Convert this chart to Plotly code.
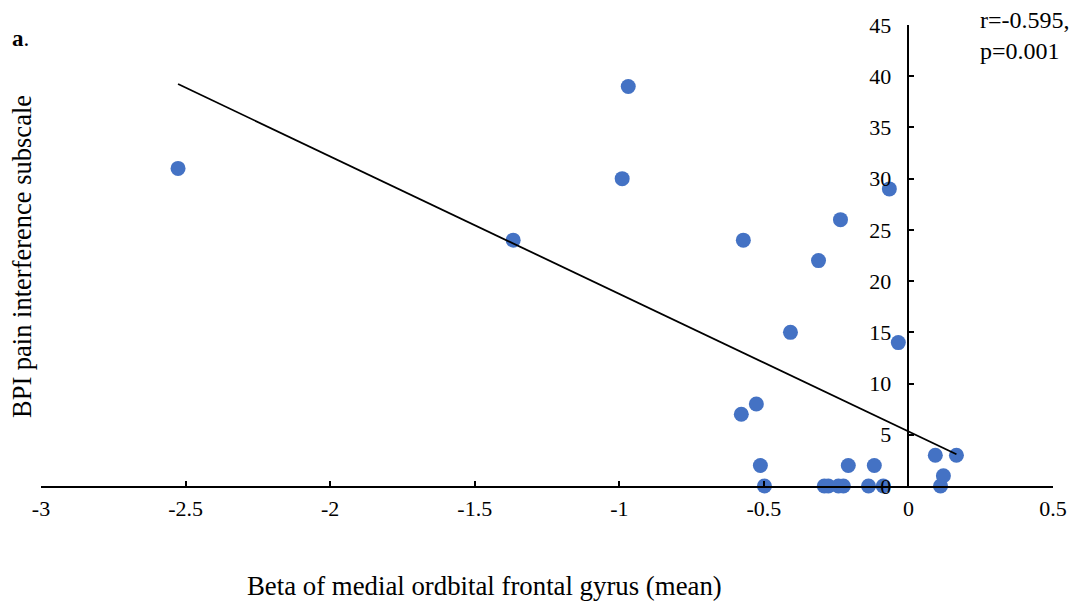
import numpy as np
import plotly.graph_objects as go

beta_mofg = [-2.526, -0.969, -0.990, -1.367, -0.571, -0.066, -0.235, -0.311, -0.408, -0.035,
             -0.578, -0.526, -0.512, -0.208, -0.118,
             -0.498, -0.291, -0.277, -0.242, -0.225, -0.138, -0.087, 0.111,
             0.093, 0.166, 0.121]
bpi_interference = [31, 39, 30, 24, 24, 29, 26, 22, 15, 14,
                    7, 8, 2, 2, 2,
                    0, 0, 0, 0, 0, 0, 0, 0,
                    3, 3, 1]

x_ticks = [-3, -2.5, -2, -1.5, -1, -0.5, 0, 0.5]
y_ticks = [0, 5, 10, 15, 20, 25, 30, 35, 40, 45]
y_tick_labels = ["0", "5", "10", "15", "20", "25", "30", "35", "40", "45"]

slope, intercept = np.polyfit(beta_mofg, bpi_interference, 1)
line_x = [min(beta_mofg), max(beta_mofg)]
line_y = [slope * v + intercept for v in line_x]

FONT = "Liberation Serif"
L, R, T, B = 41, 20, 25, 119
PW, PH = 1073 - L - R, 605 - T - B


def px(xp):
    return (xp - L) / PW


def py(yp):
    return (605 - B - yp) / PH


fig = go.Figure()
fig.add_trace(go.Scatter(x=beta_mofg, y=bpi_interference, mode="markers",
                         marker=dict(color="#4472C4", size=15, line=dict(width=0)),
                         showlegend=False, cliponaxis=False))
fig.add_trace(go.Scatter(x=line_x, y=line_y, mode="lines",
                         line=dict(color="black", width=1.8), showlegend=False))

fig.update_layout(
    width=1073, height=605,
    margin=dict(l=L, r=R, t=T, b=B, autoexpand=False),
    paper_bgcolor="white", plot_bgcolor="white",
    font=dict(family=FONT, size=22, color="black"),
    xaxis=dict(range=[-3, 0.5], tickvals=x_ticks, ticktext=[str(v) for v in x_ticks],
               showgrid=False, zeroline=False, showline=True, linecolor="black", linewidth=1.5,
               ticks="inside", ticklen=5, tickcolor="black", tickwidth=1.5, automargin=False,
               anchor="y", tickfont=dict(family=FONT, size=22), ticklabelstandoff=2),
    yaxis=dict(range=[0, 45], tickvals=y_ticks, ticktext=y_tick_labels,
               showgrid=False, zeroline=False, showline=True, linecolor="black", linewidth=1.5,
               ticks="inside", ticklen=5, tickcolor="black", tickwidth=1.5, automargin=False,
               anchor="free", position=3 / 3.5, tickfont=dict(family=FONT, size=22),
               ticklabelstandoff=12),
    annotations=[
        dict(text="Beta of medial ordbital frontal gyrus (mean)", xref="paper", yref="paper",
             x=px(484), y=py(586), xanchor="center", yanchor="middle",
             showarrow=False, font=dict(family=FONT, size=26.8)),
        dict(text="BPI pain interference subscale", xref="paper", yref="paper",
             x=px(22), y=py(257), xanchor="center", yanchor="middle",
             textangle=-90, showarrow=False, font=dict(family=FONT, size=26.5)),
        dict(text="<b>a</b>.", xref="paper", yref="paper", x=px(10), y=py(38),
             xanchor="left", yanchor="middle", showarrow=False, font=dict(family=FONT, size=23)),
        dict(text="r=-0.595,<br>p=0.001", xref="paper", yref="paper", x=px(978),
             y=py(5), xanchor="left", yanchor="top", align="left", showarrow=False,
             font=dict(family=FONT, size=24)),
    ],
)

fig.write_html("out.html")
